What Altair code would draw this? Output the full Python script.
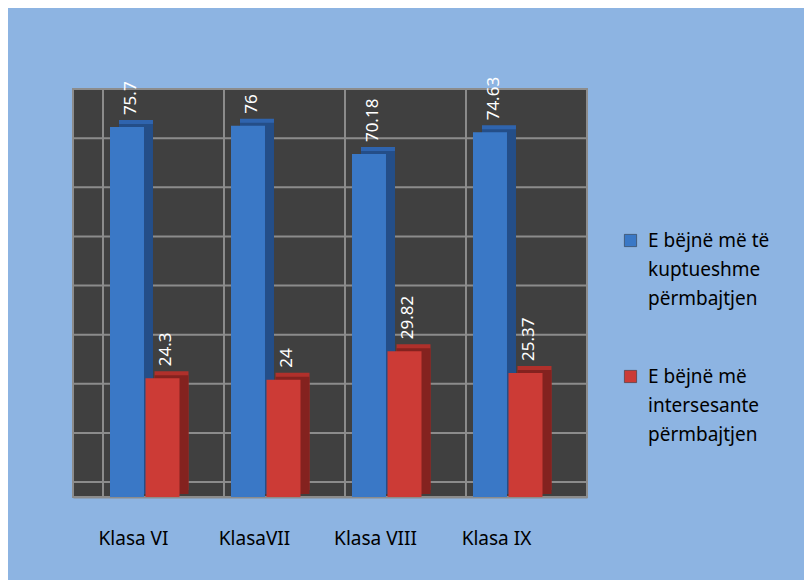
import json
import altair as alt
import pandas as pd

categories = ["Klasa VI", "KlasaVII", "Klasa VIII", "Klasa IX"]
series = ["E bëjnë më të kuptueshme përmbajtjen", "E bëjnë më intersesante përmbajtjen"]
legend_lines = [["E bëjnë më të", "kuptueshme", "përmbajtjen"],
                ["E bëjnë më", "intersesante", "përmbajtjen"]]
values_blue = [75.7, 76, 70.18, 74.63]
values_red = [24.3, 24, 29.82, 25.37]
labels_blue = ["75.7", "76", "70.18", "74.63"]
labels_red = ["24.3", "24", "29.82", "25.37"]
grid_vals = [0, 10, 20, 30, 40, 50, 60, 70, 80]

front_colors = ["#3A78C6", "#CC3B36"]
side_colors = ["#244E88", "#84221F"]
cap_colors = ["#2F64AE", "#B0302B"]

rows = []
for c, v, l in zip(categories, values_blue, labels_blue):
    rows.append({"cat": c, "series": series[0], "value": v, "label": l})
for c, v, l in zip(categories, values_red, labels_red):
    rows.append({"cat": c, "series": series[1], "value": v, "label": l})
df = pd.DataFrame(rows)
grid_df = pd.DataFrame({"g": grid_vals})
cat_df = pd.DataFrame({"cat": categories})

FONT = "Noto Sans"
BAR_W = 34
# horizontal pixel offset of each series' bar centre from the band centre
series_dx = [-6.5, 29]

xscale = alt.Scale(domain=categories, paddingInner=0, paddingOuter=0.124, align=0)
xaxis = alt.Axis(title=None, ticks=False, labelAngle=0, labelFont=FONT,
                 labelFontSize=19, labelColor="#000000", labelPadding=32,
                 domainColor="#8C8C8C", domainWidth=2, grid=False)
xenc = alt.X("cat:N", sort=categories, scale=xscale, axis=xaxis)
yscale = alt.Scale(domain=[0, 83.5], nice=False, zero=False)
yenc = alt.Y("value:Q", scale=yscale, axis=None)

hgrid = alt.Chart(grid_df).mark_rule(color="#8C8C8C", strokeWidth=2).encode(
    y=alt.Y("g:Q", scale=alt.Scale(domain=[-3.05, 80], nice=False, zero=False), axis=None)
)
vgrid = alt.Chart(cat_df).mark_rule(color="#8C8C8C", strokeWidth=2, xOffset=30).encode(
    x=alt.X("cat:N", sort=categories, scale=xscale, bandPosition=0, axis=xaxis)
)

label_expr = "datum.label == %s ? %s : %s" % (
    json.dumps(series[0]), json.dumps(legend_lines[0]), json.dumps(legend_lines[1]))

base = alt.Chart(df)
caps, sides, fronts, texts = [], [], [], []
for i, s in enumerate(series):
    b = base.transform_filter(alt.datum.series == s)
    dx = series_dx[i]
    caps.append(b.mark_bar(width=BAR_W, xOffset=dx + 9, yOffset=-7, y2Offset=-7,
                           color=cap_colors[i]).encode(x=xenc, y=yenc))
    sides.append(b.mark_bar(width=BAR_W, xOffset=dx + 9, yOffset=-3, y2Offset=-5,
                            color=side_colors[i]).encode(x=xenc, y=yenc))
    fronts.append(b.mark_bar(width=BAR_W, xOffset=dx).encode(
        x=xenc, y=yenc,
        color=alt.Color("series:N", scale=alt.Scale(domain=series, range=front_colors),
                        legend=alt.Legend(title=None, orient="none", legendX=548, legendY=142,
                                          symbolType="square", symbolSize=150,
                                          symbolStrokeColor="#2B2B2B", symbolStrokeWidth=0.5,
                                          labelFont=FONT, labelFontSize=19, labelColor="#000000",
                                          labelLimit=300, labelExpr=label_expr,
                                          rowPadding=58, labelOffset=8)),
    ))
    texts.append(b.mark_text(angle=270, align="left", baseline="middle", color="white",
                             font=FONT, fontSize=17, xOffset=dx + 4, yOffset=-12).encode(
        x=xenc, y=yenc, text="label:N"))

chart = alt.layer(vgrid, hgrid, *caps, *sides, *fronts, *texts).resolve_scale(
    y="independent"
).properties(
    width=514, height=408,
    autosize=alt.AutoSizeParams(type="none"),
    padding={"left": 65, "top": 81, "right": 217, "bottom": 83},
    background="#8DB4E2",
).configure(
    style={"guide-label": {"lineHeight": 29}},
    view=alt.ViewConfig(fill="#404040", stroke="#8C8C8C", strokeWidth=2),
)

chart.save("out.html", embed_options={"renderer": "svg", "actions": False})
